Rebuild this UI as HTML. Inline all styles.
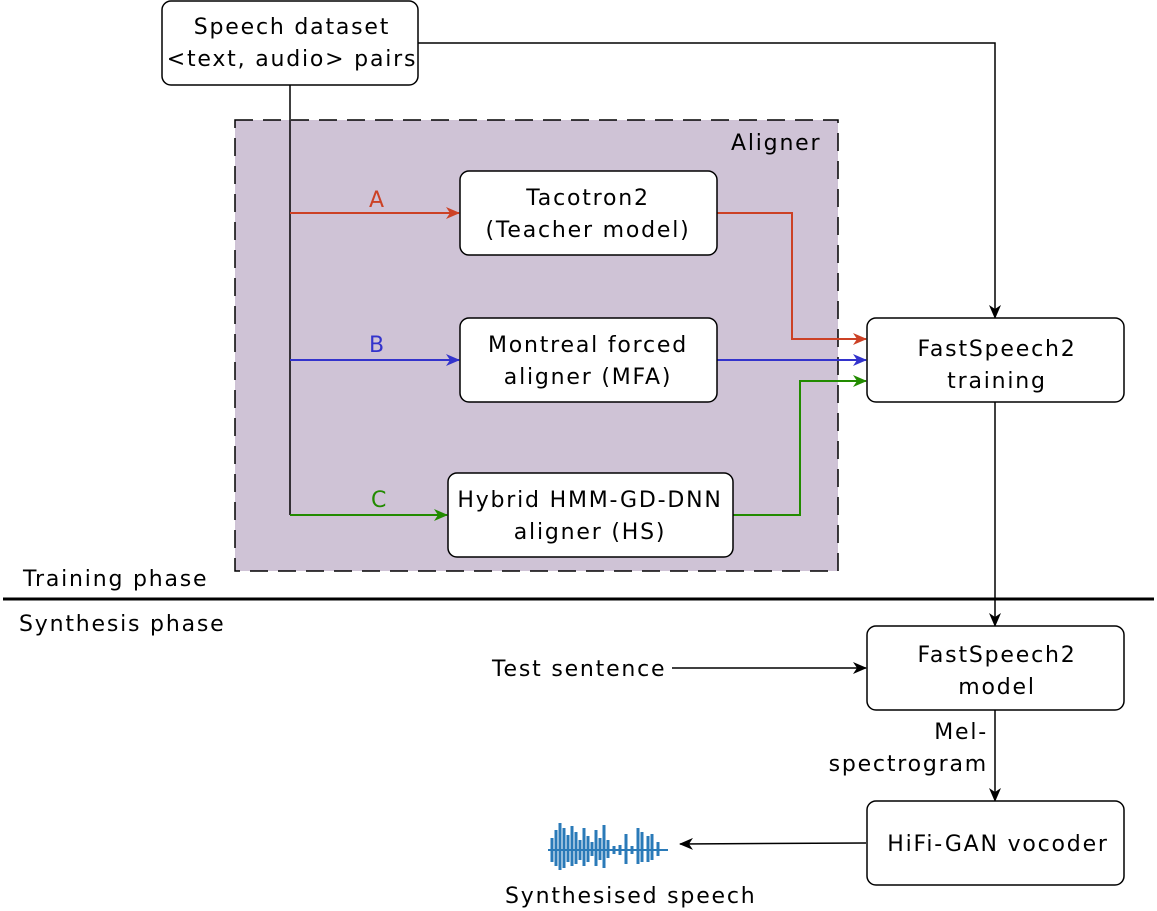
<!DOCTYPE html>
<html><head><meta charset="utf-8"><style>
html,body{margin:0;padding:0;background:#fff;}
svg{display:block;}
text{font-family:"DejaVu Sans","Liberation Sans",sans-serif;font-size:22px;letter-spacing:1.8px;}
</style></head><body>
<svg width="1157" height="911" viewBox="0 0 1157 911" xmlns="http://www.w3.org/2000/svg">
<defs>
<marker id="ak" markerWidth="14" markerHeight="12" refX="13" refY="6" orient="auto" markerUnits="userSpaceOnUse"><path d="M0,0 L14,6 L0,12 L4,6 z" fill="#000"/></marker>
<marker id="ar" markerWidth="14" markerHeight="12" refX="13" refY="6" orient="auto" markerUnits="userSpaceOnUse"><path d="M0,0 L14,6 L0,12 L4,6 z" fill="#cc4125"/></marker>
<marker id="ab" markerWidth="14" markerHeight="12" refX="13" refY="6" orient="auto" markerUnits="userSpaceOnUse"><path d="M0,0 L14,6 L0,12 L4,6 z" fill="#3333cc"/></marker>
<marker id="ag" markerWidth="14" markerHeight="12" refX="13" refY="6" orient="auto" markerUnits="userSpaceOnUse"><path d="M0,0 L14,6 L0,12 L4,6 z" fill="#228b00"/></marker>
</defs>
<rect x="235" y="120" width="603" height="451" fill="#cfc3d6" stroke="#000" stroke-width="1.5" stroke-dasharray="18,10"/>
<text x="731" y="150">Aligner</text>
<path d="M418,43 H995 V318" fill="none" stroke="#000" stroke-width="1.5" marker-end="url(#ak)"/>
<line x1="290" y1="85" x2="290" y2="515" stroke="#000" stroke-width="1.5"/>
<line x1="290" y1="213" x2="459" y2="213" stroke="#cc4125" stroke-width="2" marker-end="url(#ar)"/>
<line x1="290" y1="360" x2="459" y2="360" stroke="#3333cc" stroke-width="2" marker-end="url(#ab)"/>
<line x1="290" y1="515" x2="447" y2="515" stroke="#228b00" stroke-width="2" marker-end="url(#ag)"/>
<text x="369" y="207" fill="#cc4125">A</text>
<text x="369" y="352" fill="#3333cc">B</text>
<text x="371" y="507" fill="#228b00">C</text>
<path d="M717,213 H792 V339 H866" fill="none" stroke="#cc4125" stroke-width="2" marker-end="url(#ar)"/>
<line x1="717" y1="360" x2="866" y2="360" stroke="#3333cc" stroke-width="2" marker-end="url(#ab)"/>
<path d="M733,515 H800 V381 H866" fill="none" stroke="#228b00" stroke-width="2" marker-end="url(#ag)"/>
<line x1="995" y1="402" x2="995" y2="626" stroke="#000" stroke-width="1.5" marker-end="url(#ak)"/>
<line x1="3" y1="599" x2="1154" y2="599" stroke="#000" stroke-width="3"/>
<text x="23" y="586">Training phase</text>
<text x="19" y="631">Synthesis phase</text>
<line x1="672" y1="668" x2="866" y2="668" stroke="#000" stroke-width="1.5" marker-end="url(#ak)"/>
<text x="492" y="676">Test sentence</text>
<line x1="995" y1="710" x2="995" y2="801" stroke="#000" stroke-width="1.5" marker-end="url(#ak)"/>
<text x="988" y="739" text-anchor="end">Mel-</text>
<text x="988" y="771" text-anchor="end">spectrogram</text>
<line x1="866" y1="843" x2="680" y2="844" stroke="#000" stroke-width="1.5" marker-end="url(#ak)"/>
<text x="505" y="903">Synthesised speech</text>
<g fill="#fff" stroke="#000" stroke-width="1.5">
<rect x="162" y="1" width="256" height="84" rx="9"/>
<rect x="460" y="171" width="257" height="84" rx="9"/>
<rect x="460" y="318" width="257" height="84" rx="9"/>
<rect x="448" y="473" width="285" height="84" rx="9"/>
<rect x="867" y="318" width="257" height="84" rx="9"/>
<rect x="867" y="626" width="257" height="84" rx="9"/>
<rect x="867" y="801" width="257" height="84" rx="9"/>
</g>
<g text-anchor="middle">
<text x="292" y="34">Speech dataset</text>
<text x="292" y="66">&lt;text, audio&gt; pairs</text>
<text x="588" y="205">Tacotron2</text>
<text x="588" y="237">(Teacher model)</text>
<text x="588" y="352">Montreal forced</text>
<text x="588" y="384">aligner (MFA)</text>
<text x="590" y="507">Hybrid HMM-GD-DNN</text>
<text x="590" y="539">aligner (HS)</text>
<text x="997" y="356">FastSpeech2</text>
<text x="997" y="388">training</text>
<text x="997" y="662">FastSpeech2</text>
<text x="997" y="694">model</text>
<text x="998" y="851">HiFi-GAN vocoder</text>
</g>
<g stroke="#2a7ab8" stroke-width="3">
<line x1="548" y1="850" x2="668" y2="850" stroke-width="2"/>
<line x1="552" y1="838" x2="552" y2="862"/><line x1="556" y1="830" x2="556" y2="866"/>
<line x1="560" y1="823" x2="560" y2="870"/><line x1="564" y1="828" x2="564" y2="868"/>
<line x1="568" y1="835" x2="568" y2="862"/><line x1="572" y1="826" x2="572" y2="866"/>
<line x1="576" y1="832" x2="576" y2="864"/><line x1="580" y1="840" x2="580" y2="860"/>
<line x1="584" y1="828" x2="584" y2="866"/><line x1="588" y1="836" x2="588" y2="862"/>
<line x1="592" y1="842" x2="592" y2="856"/><line x1="596" y1="830" x2="596" y2="866"/>
<line x1="600" y1="838" x2="600" y2="860"/><line x1="604" y1="825" x2="604" y2="868"/>
<line x1="608" y1="840" x2="608" y2="858"/><line x1="614" y1="846" x2="614" y2="854"/>
<line x1="620" y1="845" x2="620" y2="855"/><line x1="626" y1="834" x2="626" y2="864"/>
<line x1="632" y1="846" x2="632" y2="854"/><line x1="638" y1="828" x2="638" y2="864"/>
<line x1="642" y1="832" x2="642" y2="862"/><line x1="648" y1="836" x2="648" y2="862"/>
<line x1="652" y1="834" x2="652" y2="860"/><line x1="658" y1="842" x2="658" y2="856"/>
</g>
</svg>
</body></html>
